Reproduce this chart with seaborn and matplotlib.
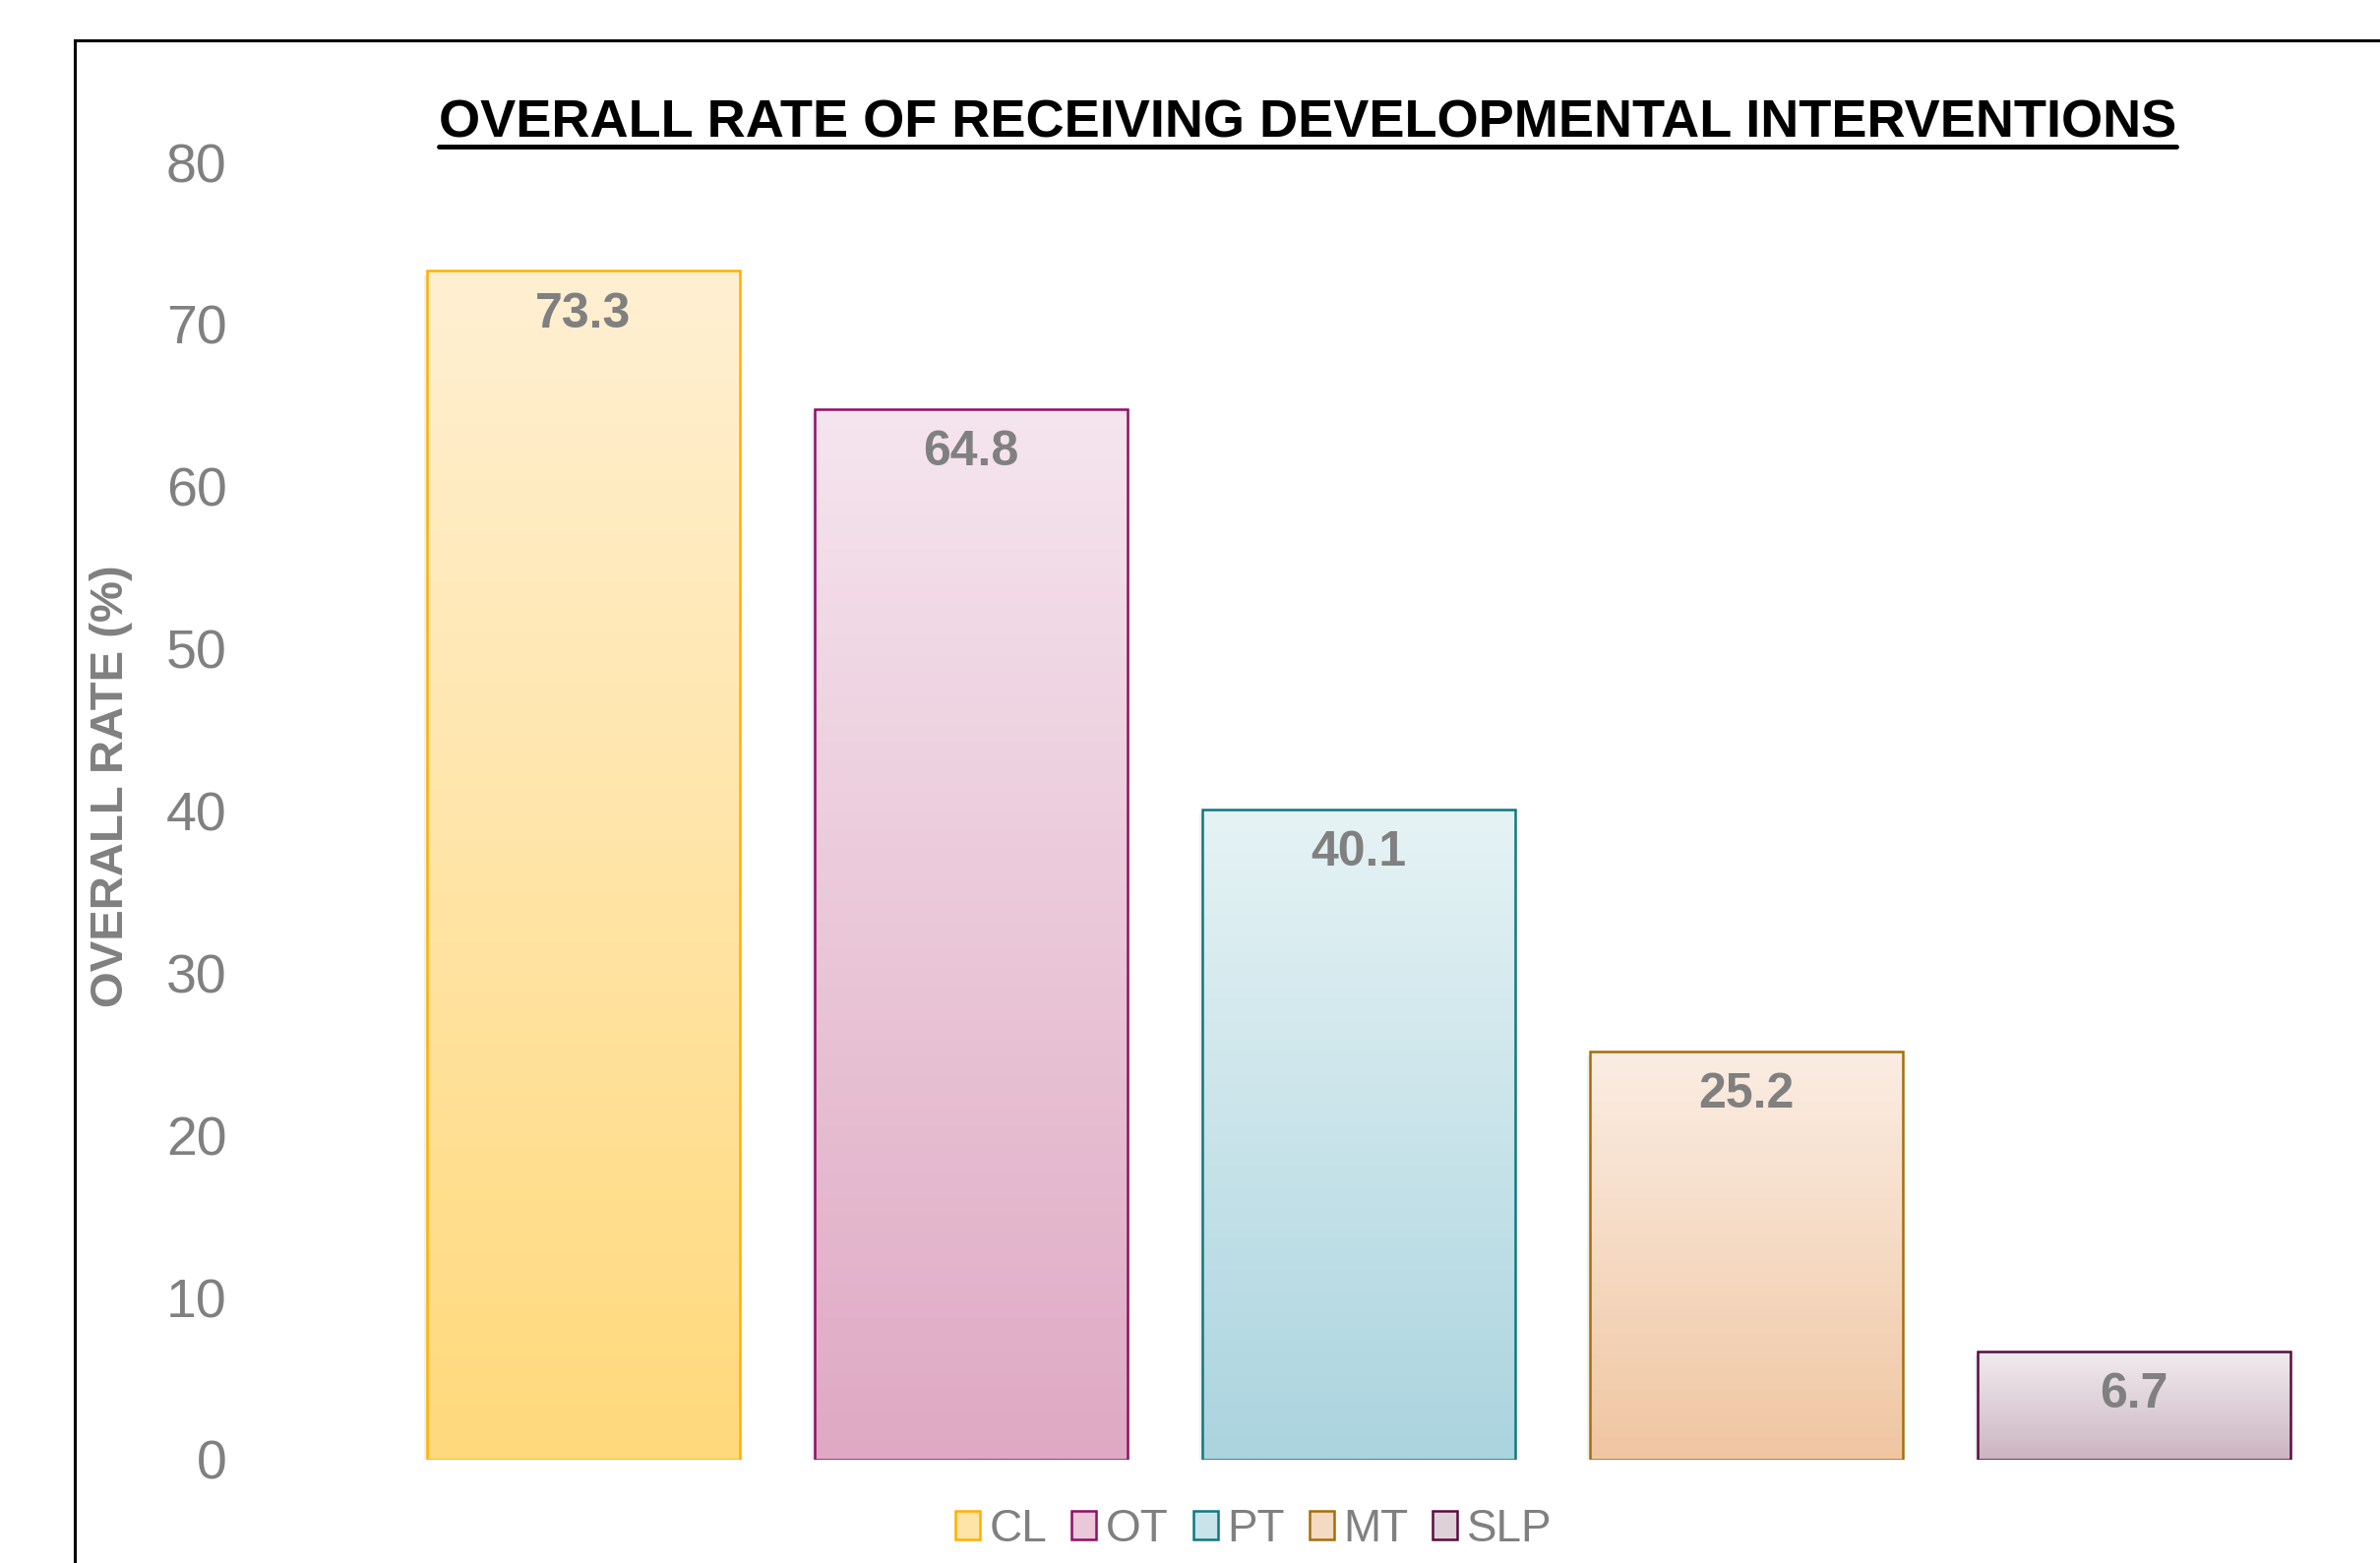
import numpy as np
import pandas as pd
import matplotlib
matplotlib.use("Agg")
import matplotlib.pyplot as plt
import seaborn as sns
from matplotlib.patches import Patch, Rectangle
from matplotlib.lines import Line2D
from matplotlib.colors import to_rgb

categories = ["CL", "OT", "PT", "MT", "SLP"]
values = [73.3, 64.8, 40.1, 25.2, 6.7]
top_colors = ["#FFF0D3", "#F5E5EE", "#E6F3F5", "#FBEDE3", "#F1ECEF"]
bottom_colors = ["#FFD97B", "#DFA9C3", "#ABD4DF", "#F0C6A2", "#CBB5C1"]
edge_colors = ["#FFB000", "#8E0F66", "#0E7883", "#A46F0A", "#5B0B40"]
yticks = [0, 10, 20, 30, 40, 50, 60, 70, 80]

title = "OVERALL RATE OF RECEIVING DEVELOPMENTAL INTERVENTIONS"
ylabel = "OVERALL RATE (%)"

sns.set_theme(style="white")
plt.rcParams["font.family"] = ["Liberation Sans", "DejaVu Sans"]

W, H, DPI = 2419, 1589, 100
fig = plt.figure(figsize=(W / DPI, H / DPI), dpi=DPI)
fig.patch.set_facecolor("white")

# axes geometry (pixels)
ax_left, ax_right = 396, 2366
y0_px, y80_px = 1484, 165
ax = fig.add_axes([ax_left / W, 1 - y0_px / H, (ax_right - ax_left) / W, (y0_px - y80_px) / H])
ax.set_facecolor("none")

df = pd.DataFrame({"cat": categories, "val": values})
sns.barplot(data=df, x="cat", y="val", hue="cat", palette=bottom_colors,
            width=0.805, legend=False, ax=ax, saturation=1, linewidth=1.8)

for p, tc, bc, ec in zip(ax.patches, top_colors, bottom_colors, edge_colors):
    x, w, h = p.get_x(), p.get_width(), p.get_height()
    t = np.linspace(0, 1, 256)[:, None]
    c_top, c_bot = np.array(to_rgb(tc)), np.array(to_rgb(bc))
    grad = c_bot[None, :] * (1 - t) + c_top[None, :] * t
    grad = grad[:, None, :]
    im = ax.imshow(grad, extent=[x, x + w, 0, h], origin="lower", aspect="auto",
                   zorder=p.get_zorder() - 0.01, interpolation="bilinear")
    im.set_clip_path(p)
    # subtle shadow
    sh = Rectangle((x - 0.008, -0.25), w + 0.006, h, facecolor="#000000", alpha=0.06,
                   edgecolor="none", zorder=p.get_zorder() - 0.02)
    ax.add_patch(sh)
    p.set_facecolor("none")
    p.set_edgecolor(ec)
    p.set_linewidth(1.8)
    ax.annotate(f"{h:.1f}", xy=(x + w / 2, h), xytext=(0, -32), textcoords="offset points",
                ha="center", va="center", fontsize=36, fontweight="bold", color="#808080",
                zorder=5)

ax.set_xlim(-0.5, 4.5)
ax.set_ylim(0, 80)
ax.set_yticks(yticks)
ax.set_yticklabels([str(v) for v in yticks])
ax.set_xticks([])
ax.set_xlabel("")
ax.set_ylabel("")
ax.tick_params(axis="y", length=0, pad=119, labelsize=40, labelcolor="#808080")
for s in ax.spines.values():
    s.set_visible(False)
ax.grid(False)

# y label
fig.text(113 / W, 1 - 799 / H, ylabel, rotation=90, ha="center", va="center",
         fontsize=34, fontweight="bold", color="#808080")

# title with underline
tt = fig.text(1329 / W, 1 - 126 / H, title, ha="center", va="center",
              fontsize=39, fontweight="bold", color="black")
fig.canvas.draw()
bb = tt.get_window_extent()
fig.add_artist(Line2D([bb.x0 / W, bb.x1 / W], [1 - 149 / H, 1 - 149 / H],
                      transform=fig.transFigure, color="black", linewidth=3.5))

# legend
handles = [Patch(facecolor=(np.array(to_rgb(t)) + np.array(to_rgb(b))) / 2, edgecolor=e, linewidth=1.8, label=c)
           for c, t, b, e in zip(categories, top_colors, bottom_colors, edge_colors)]
fig.legend(handles=handles, loc="center", bbox_to_anchor=(1274 / W, 1 - 1555 / H), ncol=5,
           frameon=False, fontsize=33, labelcolor="#808080", handlelength=0.55, handleheight=0.6,
           handletextpad=0.2, columnspacing=0.55, borderaxespad=0, borderpad=0)

# outer frame
fig.add_artist(Rectangle((76 / W, -0.05), 1.2, (1 - 41 / H) + 0.05, transform=fig.transFigure,
                         facecolor="none", edgecolor="black", linewidth=2.2))

fig.savefig("out.png", dpi=DPI, facecolor="white")
